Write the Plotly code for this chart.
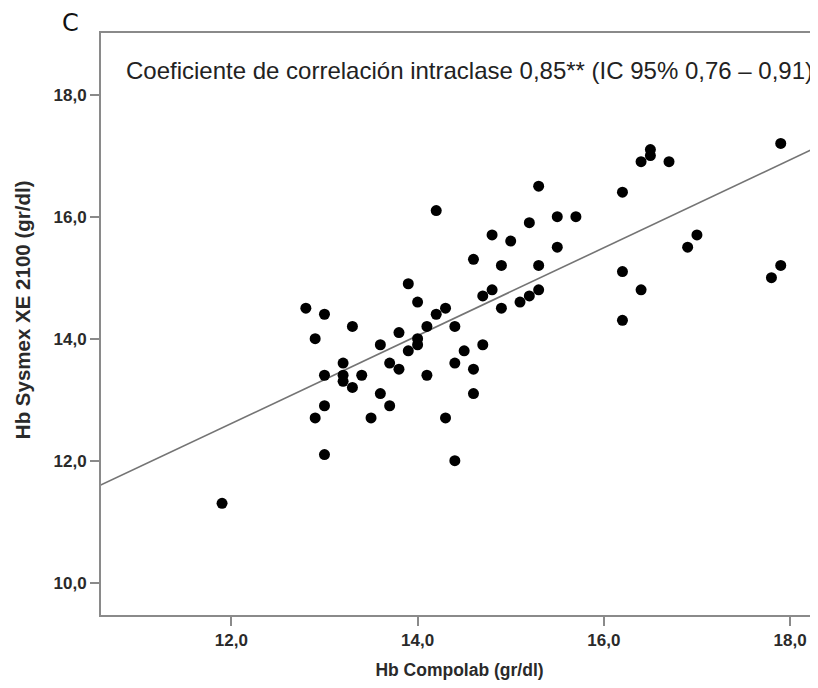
import plotly.graph_objects as go

# Data (Hb Compolab vs Hb Sysmex XE 2100, gr/dl)
hb_compolab = [
    12.8, 13.0, 13.3, 12.9, 13.8, 13.6, 13.2, 13.7, 13.8, 13.0,
    13.2, 13.4, 13.2, 13.3, 13.6, 13.7, 13.0, 12.9, 13.5, 13.0,
    11.9, 14.2, 14.8, 15.0, 15.2, 15.5, 15.3, 15.5, 14.6, 14.9,
    15.3, 13.9, 14.8, 14.7, 15.3, 15.2, 15.1, 14.9, 14.0, 14.3,
    14.2, 14.1, 14.4, 14.0, 14.0, 13.9, 14.5, 14.7, 14.4, 14.6,
    14.1, 14.6, 14.3, 14.4, 16.5, 16.5, 16.4, 16.7, 16.2, 15.7,
    16.2, 16.4, 16.2, 17.0, 16.9, 17.9, 17.9, 17.8,
]
hb_sysmex = [
    14.5, 14.4, 14.2, 14.0, 14.1, 13.9, 13.6, 13.6, 13.5, 13.4,
    13.4, 13.4, 13.3, 13.2, 13.1, 12.9, 12.9, 12.7, 12.7, 12.1,
    11.3, 16.1, 15.7, 15.6, 15.9, 16.0, 16.5, 15.5, 15.3, 15.2,
    15.2, 14.9, 14.8, 14.7, 14.8, 14.7, 14.6, 14.5, 14.6, 14.5,
    14.4, 14.2, 14.2, 14.0, 13.9, 13.8, 13.8, 13.9, 13.6, 13.5,
    13.4, 13.1, 12.7, 12.0, 17.1, 17.0, 16.9, 16.9, 16.4, 16.0,
    15.1, 14.8, 14.3, 15.7, 15.5, 17.2, 15.2, 15.0,
]

# Fit line
fit_intercept = 3.97
fit_slope = 0.72

x_range = [10.60, 18.30]
y_range = [9.47, 19.01]
y_ticks = [10, 12, 14, 16, 18]
x_ticks = [12, 14, 16, 18]

annotation_text = "Coeficiente de correlación intraclase 0,85** (IC 95% 0,76 – 0,91)"
panel_label = "C"
x_title = "Hb Compolab (gr/dl)"
y_title = "Hb Sysmex XE 2100 (gr/dl)"

fit_x = [x_range[0] - 0.5, x_range[1] + 0.5]
fit_y = [fit_intercept + fit_slope * v for v in fit_x]

fig = go.Figure()
fig.add_trace(go.Scatter(
    x=fit_x, y=fit_y, mode="lines",
    line=dict(color="#747474", width=1.6),
    hoverinfo="skip", showlegend=False,
))
fig.add_trace(go.Scatter(
    x=hb_compolab, y=hb_sysmex, mode="markers",
    marker=dict(color="black", size=11, line=dict(width=0)),
    showlegend=False,
))

base_font = "Liberation Sans, Arial, sans-serif"
tick_font = dict(family=base_font, size=17, color="#2a2a2a", weight="bold")
title_font = dict(family=base_font, size=17.5, color="#2a2a2a", weight="bold")

fig.update_layout(
    width=810, height=672,
    margin=dict(l=93, r=0, t=25, b=65),
    paper_bgcolor="white", plot_bgcolor="white",
    separators=",.",
    showlegend=False,
    xaxis=dict(
        range=x_range, tickvals=x_ticks, tickformat=".1f",
        showgrid=False, zeroline=False,
        showline=True, linecolor="#8a8a8a", linewidth=2, mirror=True,
        ticks="outside", ticklen=9, tickwidth=2, tickcolor="#8a8a8a",
        tickfont=tick_font,
        title=dict(text=x_title, font=title_font, standoff=17),
    ),
    yaxis=dict(
        range=y_range, tickvals=y_ticks, tickformat=".1f",
        showgrid=False, zeroline=False,
        showline=True, linecolor="#8a8a8a", linewidth=2, mirror=False,
        ticks="outside", ticklen=9, tickwidth=2, tickcolor="#8a8a8a",
        tickfont=tick_font,
    ),
    annotations=[
        dict(
            text=y_title, xref="paper", yref="paper",
            x=-0.110, y=0.524, xanchor="center", yanchor="middle",
            textangle=-90, showarrow=False,
            font=dict(family=base_font, size=20.5, color="#2a2a2a", weight="bold"),
        ),
        dict(
            text=annotation_text, xref="paper", yref="paper",
            x=0.032, y=0.936, xanchor="left", yanchor="middle",
            showarrow=False,
            font=dict(family=base_font, size=24, color="#222222"),
        ),
        dict(
            text=panel_label, xref="paper", yref="paper",
            x=-0.042, y=1.017, xanchor="center", yanchor="middle",
            showarrow=False,
            font=dict(family="DejaVu Sans, sans-serif", size=24, color="#111111"),
        ),
    ],
)

fig.write_html("out.html")
